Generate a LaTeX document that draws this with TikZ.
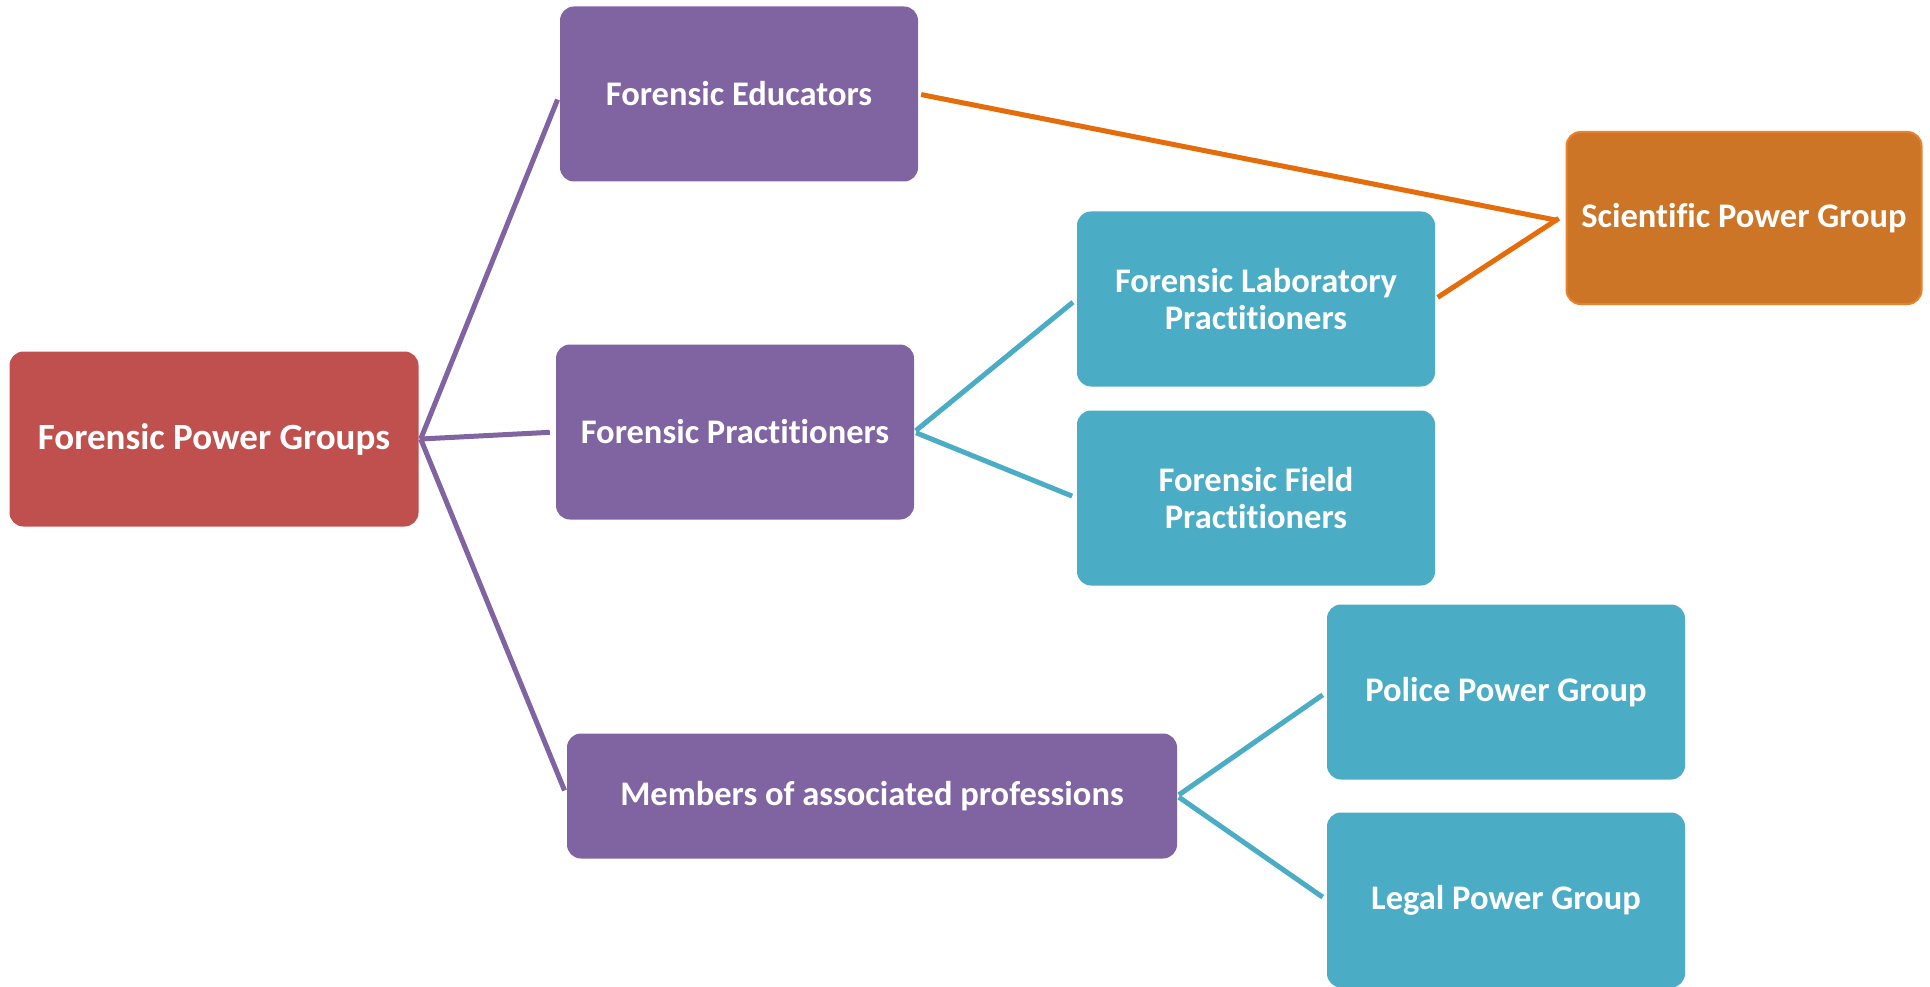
\documentclass[tikz,border=0pt]{standalone}
\usepackage{fontspec}
\setmainfont{Carlito}[RawFeature={-liga;-dlig;-calt;-clig}]
\definecolor{cred}{HTML}{C0504D}
\definecolor{cpurple}{HTML}{8064A2}
\definecolor{cteal}{HTML}{4BACC6}
\definecolor{corange}{HTML}{E46C0A}
\definecolor{cofill}{HTML}{CC7527}
\definecolor{coedge}{HTML}{E8822E}
\begin{document}
\begin{tikzpicture}[x=1pt,y=-1pt,
  box/.style={rectangle, rounded corners=14pt, inner sep=0pt, text=white,
    font=\fontsize{34.5}{37}\selectfont\bfseries, align=center,
    minimum width=358pt, minimum height=175pt},
  redbox/.style={box, fill=cred, font=\fontsize{37}{40}\selectfont\bfseries},
  purplebox/.style={box, fill=cpurple},
  tealbox/.style={box, fill=cteal},
  orangebox/.style={box, fill=cofill, draw=coedge, line width=2pt},
  plink/.style={draw=cpurple, line width=5pt, shorten >=6pt},
  tlink/.style={draw=cteal, line width=5pt, shorten <=2pt, shorten >=5pt},
  olink/.style={draw=corange, line width=5pt, shorten <=3pt, shorten >=8pt}]
\useasboundingbox (0,0) rectangle (1930,987);

\node[redbox, minimum width=409pt] (fpg) at (214,439) {Forensic Power Groups};
\node[purplebox] (edu) at (739,94) {Forensic Educators};
\node[purplebox] (prac) at (735,432) {Forensic Practitioners};
\node[purplebox, minimum width=610pt, minimum height=125pt] (mem) at (872,796) {Members of associated professions};
\node[tealbox] (lab) at (1256,299) {Forensic Laboratory\\Practitioners};
\node[tealbox] (field) at (1256,498) {Forensic Field\\Practitioners};
\node[orangebox, minimum width=355pt, minimum height=172pt] (sci) at (1744,218) {Scientific Power Group};
\node[tealbox] (police) at (1506,692) {Police Power Group};
\node[tealbox] (legal) at (1506,900) {Legal Power Group};

\coordinate (fork) at ([xshift=2pt]fpg.east);
\draw[plink] (fork) -- (edu.west);
\draw[plink] (fork) -- (prac.west);
\draw[plink] (fork) -- (mem.west);

\draw[tlink] (prac.east) -- (lab.west);
\draw[tlink] (prac.east) -- (field.west);
\draw[tlink] (mem.east) -- (police.west);
\draw[tlink] (mem.east) -- (legal.west);

\draw[olink] (edu.east) -- ([yshift=-4pt]sci.west);
\draw[olink] (lab.east) -- ([yshift=4pt]sci.west);
\end{tikzpicture}
\end{document}
